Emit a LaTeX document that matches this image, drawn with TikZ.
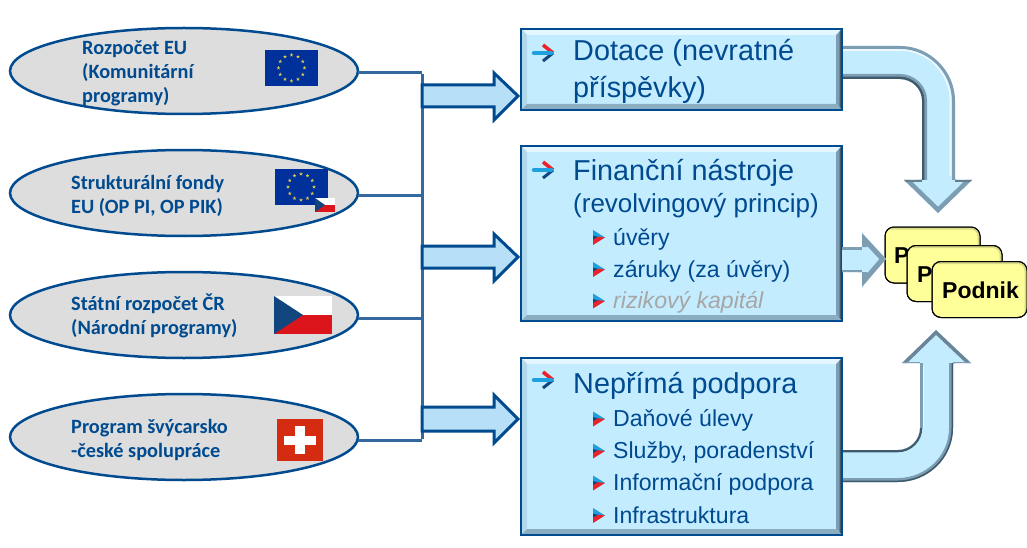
\documentclass[tikz,border=0pt]{standalone}
\usepackage{fontspec}
\setmainfont{Liberation Sans}
\newfontfamily\calib{Carlito}
\usetikzlibrary{shapes.geometric,calc}
\definecolor{navy}{HTML}{004A8F}
\definecolor{busc}{HTML}{33699F}
\definecolor{ovalc}{HTML}{DDDDDD}
\definecolor{arrowc}{HTML}{B8DFF8}
\definecolor{boxc}{HTML}{C4ECFF}
\definecolor{cardc}{HTML}{FFFF99}
\definecolor{bevmid}{HTML}{7D9DB2}
\definecolor{bevdark}{HTML}{3F5A6B}
\definecolor{euc}{HTML}{00309A}
\definecolor{starc}{HTML}{D9C94A}
\definecolor{czb}{HTML}{11457E}
\definecolor{czr}{HTML}{DC141C}
\definecolor{chr}{HTML}{D52B10}
\definecolor{bulc}{HTML}{1EA0E0}
\definecolor{redc}{HTML}{E8232A}
\tikzset{
  oval/.style={ellipse,draw=navy,fill=ovalc,line width=2.5pt,minimum width=348pt,minimum height=86pt,inner sep=0pt,outer sep=0pt},
  ovaltext/.style={anchor=west,align=left,inner sep=0pt,text=navy,font=\calib\bfseries\fontsize{20.3}{24}\selectfont},
  busline/.style={draw=busc,line width=3pt},
  blockarrow/.style={draw=navy,fill=arrowc,line width=3pt,miter limit=10},
  panel/.style={rectangle,draw=navy,fill=boxc,line width=1.5pt,inner sep=0pt,outer sep=0pt},
  bigtext/.style={anchor=west,align=left,inner sep=0pt,text=navy,font=\fontsize{28.8}{37}\selectfont},
  midtext/.style={anchor=base west,inner sep=0pt,text=navy,font=\fontsize{26}{30}\selectfont},
  itemtext/.style={anchor=base west,inner sep=0pt,text=navy,font=\fontsize{23.1}{28}\selectfont},
  greytext/.style={anchor=base west,inner sep=0pt,text=black!35!white,font=\itshape\fontsize{23.1}{28}\selectfont},
  card/.style={rectangle,rounded corners=9pt,draw=black,fill=cardc,line width=1pt,minimum width=95pt,minimum height=56pt,inner sep=0pt,outer sep=0pt},
  cardtext/.style={anchor=base west,inner sep=0pt,text=black,font=\bfseries\fontsize{23}{26}\selectfont},
  titlemark/.pic={
    \draw[line width=3.6pt,redc] (0,-8) -- (10,0);
    \draw[line width=3pt,czb] (10,0) -- (0,8);
    \draw[line width=4.5pt,bulc,line cap=round] (-9,0) -- (8,0);
  },
  itemmark/.pic={
    \fill[bulc] (0,-7.5) -- (12,0) -- (0,2) -- cycle;
    \fill[czb] (0,-2) -- (7,0) -- (0,3) -- cycle;
    \fill[redc] (0,7.5) -- (12,0) -- (5,-.8) -- (0,2.2) -- cycle;
  },
  eustar/.pic={
    \fill[starc] (270:2) -- (306:.8) -- (342:2) -- (18:.8) -- (54:2) -- (90:.8) -- (126:2) -- (162:.8) -- (198:2) -- (234:.8) -- cycle;
  },
  euflag/.pic={
    \fill[euc] (-26.5,-18) rectangle (26.5,18);
    \foreach \a in {0,30,...,330} \pic at (\a:13) {eustar};
  },
  czflag/.pic={
    \fill[white] (0,0) rectangle (58,19);
    \fill[czr] (0,19) rectangle (58,38);
    \fill[czb] (0,0) -- (29,19) -- (0,38) -- cycle;
  },
  smallcz/.pic={
    \fill[white] (0,0) rectangle (20,7);
    \fill[czr] (0,7) rectangle (20,14);
    \fill[czb] (0,0) -- (10,7) -- (0,14) -- cycle;
  }
}
% bevel on a panel: x1 y1 x2 y2
\newcommand{\bevelpanel}[5]{%
  \node[panel,minimum width=#3pt-#1pt,minimum height=#4pt-#2pt] (#5) at ({(#1+#3)/2},{(#2+#4)/2}) {};
  \fill[boxc!45!white] (#1+1,#2+1) -- (#3-1,#2+1) -- (#3-6,#2+6) -- (#1+6,#2+6) -- cycle;
  \fill[boxc!75!bevmid] (#1+1,#2+1) -- (#1+6,#2+6) -- (#1+6,#4-6) -- (#1+1,#4-1) -- cycle;
  \fill[bevmid] (#3-1,#2+1) -- (#3-6,#2+6) -- (#3-6,#4-6) -- (#3-1,#4-1) -- cycle;
  \fill[bevdark] (#3-1,#2+1) -- (#3-2.5,#2+2.5) -- (#3-2.5,#4-2.5) -- (#3-1,#4-1) -- cycle;
  \fill[bevmid!80!boxc] (#1+1,#4-1) -- (#1+6,#4-6) -- (#3-6,#4-6) -- (#3-1,#4-1) -- cycle;
  \draw[navy,line width=1.5pt] (#1,#2) rectangle (#3,#4);
}
\newcommand{\yellowcard}[3]{%
  \node[card] (#1) at (#2,#3) {};
  \begin{scope}
    \clip[rounded corners=9pt] (#2-47.5,#3-28) rectangle (#2+47.5,#3+28);
    \draw[cardc!70!black!90!white,line width=5pt,rounded corners=9pt,opacity=.55] (#2-50,#3-28) -- (#2+47.5,#3-28) -- (#2+47.5,#3+32);
  \end{scope}
  \draw[black,line width=1pt,rounded corners=9pt] (#2-47.5,#3-28) rectangle (#2+47.5,#3+28);
}
\begin{document}
\begin{tikzpicture}[x=1pt,y=-1pt]
\useasboundingbox (0,0) rectangle (1027,548);
\fill[white] (0,0) rectangle (1027,548);

% --- ovals
\node[oval] (e1) at (184,71) {};
\node[oval] (e2) at (184,193) {};
\node[oval] (e3) at (184,315) {};
\node[oval] (e4) at (184,437) {};

% --- connecting lines
\coordinate (b1) at (422,73);
\coordinate (b2) at (422,195);
\coordinate (b3) at (422,318);
\coordinate (b4) at (422,440);
\draw[busline] (e1.east|-b1) -- (b1);
\draw[busline] (e2.east|-b2) -- (b2);
\draw[busline] (e3.east|-b3) -- (b3);
\draw[busline] (e4.east|-b4) -- (b4);
\draw[busline] ([yshift=-1.5pt]b1) -- ([yshift=1.5pt]b4);

% --- block arrows from the lines
\draw[blockarrow] (422,85) -- (494,85) -- (494,73) -- (518,96) -- (494,120) -- (494,107) -- (422,107) -- cycle;
\draw[blockarrow] (422,246) -- (494,246) -- (494,234) -- (518,257) -- (494,281) -- (494,268) -- (422,268) -- cycle;
\draw[blockarrow] (422,407) -- (494,407) -- (494,395) -- (518,419) -- (494,443) -- (494,431) -- (422,431) -- cycle;

% --- oval texts
\node[ovaltext] (t1) at (82,73) {Rozpočet EU\\(Komunitární\\programy)};
\node[ovaltext] (t2) at (71,195.5) {Strukturální fondy\\EU (OP PI, OP PIK)};
\node[ovaltext] (t3) at (71,316) {Státní rozpočet ČR\\(Národní programy)};
\node[ovaltext] (t4) at (71,440) {Program švýcarsko\\-české spolupráce};

% --- flags
\pic at (291.5,68) {euflag};
\pic at (301,187) {euflag};
\pic at (315,198) {smallcz};
\pic at (274,296) {czflag};
\fill[chr] (277,419) rectangle (323,461);
\fill[white] (284,436) rectangle (316,445);
\fill[white] (295,426) rectangle (305,454);

% --- curved arrow, top
\begin{scope}
  \clip (838,46) -- (900,46) .. controls (930,46) and (955,71) .. (955,101) -- (955,180) -- (972,180) -- (938,213) -- (904,180) -- (922,180) -- (922,100) .. controls (922,89) and (912,79) .. (900,79) -- (838,79) -- cycle;
  \fill[boxc] (830,40) rectangle (980,220);
  \draw[bevmid,line width=6pt] (838,46) -- (900,46) .. controls (930,46) and (955,71) .. (955,101) -- (955,180);
  \draw[white!70!boxc,line width=1.6pt] (838,50) -- (900,50) .. controls (928,50) and (950.5,73) .. (950.5,101) -- (950.5,176);
  \draw[bevmid,line width=10pt] (838,79) -- (900,79) .. controls (912,79) and (922,89) .. (922,100) -- (922,180);
  \draw[bevdark,line width=4.5pt] (838,79) -- (900,79) .. controls (912,79) and (922,89) .. (922,100) -- (922,180);
  \draw[bevmid,line width=9pt] (904,180) -- (938,213) -- (972,180);
  \draw[bevmid!80!black,line width=4pt] (904,180) -- (922,180);
  \draw[bevmid!80!black,line width=4pt] (955,180) -- (972,180);
\end{scope}

% --- curved arrow, bottom
\begin{scope}
  \clip (838,450) -- (898,450) .. controls (910,450) and (920,440) .. (920,428) -- (920,363) -- (902,363) -- (936,330) -- (971,363) -- (953,363) -- (953,428) .. controls (953,458) and (928,482) .. (898,482) -- (838,482) -- cycle;
  \fill[boxc] (830,325) rectangle (980,490);
  \draw[bevmid,line width=8pt] (838,482) -- (898,482) .. controls (928,482) and (953,458) .. (953,428) -- (953,363);
  \draw[bevdark,line width=3pt] (838,482) -- (898,482) .. controls (928,482) and (953,458) .. (953,428) -- (953,363);
  \draw[bevdark,line width=4.5pt] (838,450) -- (898,450) .. controls (910,450) and (920,440) .. (920,428);
  \draw[bevmid,line width=5pt] (920,428) -- (920,363);
  \draw[white!70!boxc,line width=1.5pt] (923.5,428) -- (923.5,367);
  \draw[bevmid!85!black,line width=7pt] (902,363) -- (936,330) -- (971,363);
  \draw[bevmid,line width=3pt] (902,363) -- (920,363);
  \draw[bevmid,line width=3pt] (953,363) -- (971,363);
\end{scope}

% --- panels
\bevelpanel{521}{29}{842}{110}{p1}
\bevelpanel{521}{146}{842}{321}{p2}
\bevelpanel{521}{358}{842}{535}{p3}

% --- panel texts
\pic at (543,53) {titlemark};
\node[bigtext] (d1) at (573,71) {Dotace (nevratné\\příspěvky)};

\pic at (543,170) {titlemark};
\node[anchor=base west,inner sep=0pt,text=navy,font=\fontsize{28.8}{37}\selectfont] (f1) at (573,180) {Finanční nástroje};
\node[midtext] (f2) at (573,212) {(revolvingový princip)};
\pic at (593,237.5) {itemmark};
\node[itemtext] (f3) at (613,245) {úvěry};
\pic at (593,269.5) {itemmark};
\node[itemtext] (f4) at (613,277) {záruky (za úvěry)};
\pic at (593,301) {itemmark};
\node[greytext] (f5) at (613,308) {rizikový kapitál};

\pic at (543,380) {titlemark};
\node[anchor=base west,inner sep=0pt,text=navy,font=\fontsize{28.8}{37}\selectfont] (n1) at (573,393) {Nepřímá podpora};
\pic at (593,419) {itemmark};
\node[itemtext] (n2) at (613,426) {Daňové úlevy};
\pic at (593,451) {itemmark};
\node[itemtext] (n3) at (613,458) {Služby, poradenství};
\pic at (593,483) {itemmark};
\node[itemtext] (n4) at (613,490) {Informační podpora};
\pic at (593,515.5) {itemmark};
\node[itemtext] (n5) at (613,523) {Infrastruktura};

% --- cards
\yellowcard{c1}{932.5}{255}
\node[cardtext] (c1t) at (894,263) {P};
\yellowcard{c2}{954.5}{273.5}
\node[cardtext] (c2t) at (917,282) {P};
\yellowcard{c3}{979.5}{289.5}
\node[cardtext] (c3t) at (942,298) {Podnik};

% --- small arrow from panel 2 to the cards
\begin{scope}
  \clip (842,247) -- (862,247) -- (862,233) -- (886,259) -- (862,287) -- (862,272) -- (842,272) -- cycle;
  \fill[boxc] (840,230) rectangle (890,290);
  \draw[bevmid,line width=5pt] (842,247) -- (862,247);
  \draw[bevmid,line width=5pt] (842,272) -- (862,272);
  \draw[bevmid,line width=10pt] (862,272) -- (862,287) -- (886,259) -- (862,233) -- (862,247);
\end{scope}
\end{tikzpicture}
\end{document}
